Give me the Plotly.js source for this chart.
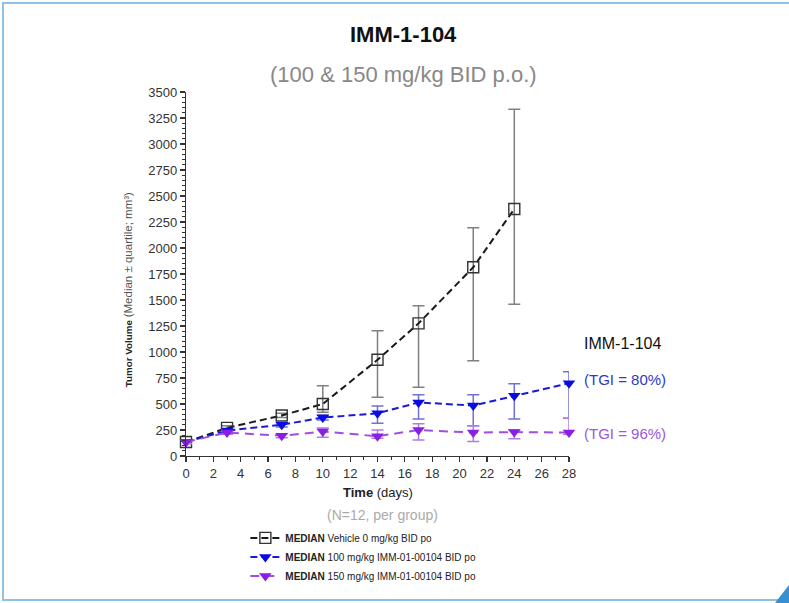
<!DOCTYPE html>
<html>
<head>
<meta charset="utf-8">
<script src="https://cdn.plot.ly/plotly-3.0.1.min.js"></script>
<style>
  html, body { margin: 0; padding: 0; background: #ffffff; }
  #wrap { position: relative; width: 789px; height: 603px; overflow: hidden; }
  #chart { position: absolute; left: 0; top: 0; width: 789px; height: 603px; }
  #frame { position: absolute; left: 2px; top: 2px; width: 820px; height: 595px;
           border-left: 2px solid #8fc1e4; border-top: 2px solid #8fc1e4; border-bottom: 2px solid #8fc1e4;
           pointer-events: none; }
  #corner { position: absolute; right: 0; bottom: 0; width: 14px; height: 18px; background: #3a8fd0;
            clip-path: polygon(100% 0, 100% 100%, 0 100%); pointer-events: none; }
</style>
</head>
<body>
<div id="wrap">
  <div id="chart"></div>
  <div id="frame"></div>
  <div id="corner"></div>
</div>
<script>
// ---- Data ----
const daysVehicle = [0, 3, 7, 10, 14, 17, 21, 24];
const vehicleMedian = [135, 270, 390, 500, 925, 1275, 1815, 2375];
const vehicleQ3 = [150, 290, 410, 675, 1205, 1445, 2195, 3335];
const vehicleQ1 = [125, 250, 370, 420, 565, 660, 915, 1460];

const daysTreated = [0, 3, 7, 10, 14, 17, 21, 24, 28];
const dose100Median = [135, 245, 300, 370, 410, 515, 485, 580, 700];
const dose100Q3 = [150, 260, 320, 395, 480, 590, 590, 695, 810];
const dose100Q1 = [120, 230, 280, 345, 315, 355, 290, 355, 362];

const dose150Median = [135, 225, 195, 235, 190, 250, 225, 230, 225];
const dose150Q3 = [150, 240, 215, 270, 250, 310, 290, 250, 362];
const dose150Q1 = [120, 210, 175, 180, 170, 155, 140, 165, 210];

const seriesNames = [
  "<b>MEDIAN</b> Vehicle 0 mg/kg BID po",
  "<b>MEDIAN</b> 100 mg/kg IMM-01-00104 BID po",
  "<b>MEDIAN</b> 150 mg/kg IMM-01-00104 BID po"
];
const tgiLabels = ["(TGI = 80%)", "(TGI = 96%)"];

const up = (q3, m) => q3.map((v, i) => v - m[i]);
const down = (q1, m) => m.map((v, i) => v - q1[i]);

const FONT = "Liberation Sans, Arial, Helvetica, sans-serif";

const traces = [
  {
    x: daysVehicle, y: vehicleMedian, name: seriesNames[0], type: "scatter", mode: "lines+markers",
    line: { color: "#1a1a1a", width: 2, dash: "7px,4px" },
    marker: { symbol: "square-open", size: 11, color: "#333333", line: { width: 1.4, color: "#333333" } },
    error_y: { type: "data", symmetric: false, array: up(vehicleQ3, vehicleMedian), arrayminus: down(vehicleQ1, vehicleMedian),
               color: "#808080", thickness: 1.5, width: 6 },
    cliponaxis: false
  },
  {
    x: daysTreated, y: dose100Median, name: seriesNames[1], type: "scatter", mode: "lines+markers",
    line: { color: "#1a1ad6", width: 2, dash: "7px,4px" },
    marker: { symbol: "triangle-down", size: 11, color: "#0a0ae6" },
    error_y: { type: "data", symmetric: false, array: up(dose100Q3, dose100Median), arrayminus: down(dose100Q1, dose100Median),
               color: "#7070d8", thickness: 1.5, width: 6 },
    cliponaxis: false
  },
  {
    x: daysTreated, y: dose150Median, name: seriesNames[2], type: "scatter", mode: "lines+markers",
    line: { color: "#a04ee0", width: 2, dash: "9px,6px" },
    marker: { symbol: "triangle-down", size: 11, color: "#8a1ee6" },
    error_y: { type: "data", symmetric: false, array: up(dose150Q3, dose150Median), arrayminus: down(dose150Q1, dose150Median),
               color: "#b27ae6", thickness: 1.5, width: 6 },
    cliponaxis: false
  }
];

const layout = {
  width: 789, height: 603,
  margin: { l: 186, r: 220, t: 92, b: 147, pad: 0 },
  paper_bgcolor: "#ffffff", plot_bgcolor: "#ffffff",
  font: { family: FONT, color: "#333333" },
  showlegend: true,
  legend: {
    xref: "paper", yref: "container",
    x: 0.155, y: 0.132, xanchor: "left", yanchor: "top",
    font: { size: 10, color: "#222222", family: FONT },
    bgcolor: "rgba(0,0,0,0)", itemwidth: 30, tracegroupgap: 0
  },
  xaxis: {
    range: [0, 28], tickmode: "linear", tick0: 0, dtick: 2,
    showgrid: false, zeroline: false, showline: true, linecolor: "#333333", linewidth: 1.2,
    ticks: "outside", ticklen: 5, tickwidth: 1.2, tickcolor: "#333333",
    tickfont: { size: 13, color: "#333333", family: FONT },
    minor: { dtick: 1, ticklen: 3, tickwidth: 1, tickcolor: "#333333", showgrid: false, ticks: "outside" },
    fixedrange: true, automargin: false
  },
  yaxis: {
    range: [0, 3500], tickmode: "linear", tick0: 0, dtick: 250,
    showgrid: false, zeroline: false, showline: true, linecolor: "#333333", linewidth: 1.2,
    ticks: "outside", ticklen: 5, tickwidth: 1.2, tickcolor: "#333333",
    tickfont: { size: 13, color: "#333333", family: FONT },
    minor: { dtick: 50, ticklen: 3, tickwidth: 1, tickcolor: "#333333", showgrid: false, ticks: "outside" },
    fixedrange: true, automargin: false
  },
  annotations: [
    { text: "<b>IMM-1-104</b>", xref: "paper", yref: "paper", x: 0.567, y: 1.157, xanchor: "center", yanchor: "middle",
      showarrow: false, font: { size: 22, color: "#111111", family: FONT } },
    { text: "(100 & 150 mg/kg BID p.o.)", xref: "paper", yref: "paper", x: 0.567, y: 1.047, xanchor: "center", yanchor: "middle",
      showarrow: false, font: { size: 22, color: "#888888", family: FONT } },
    { text: "<b>Time</b> (days)", xref: "paper", yref: "paper", x: 0.5, y: -0.099, xanchor: "center", yanchor: "middle",
      showarrow: false, font: { size: 13, color: "#222222", family: FONT } },
    { text: "(N=12, per group)", xref: "paper", yref: "paper", x: 0.514, y: -0.162, xanchor: "center", yanchor: "middle",
      showarrow: false, font: { size: 14, color: "#aaaaaa", family: FONT } },
    { text: "<b>Tumor Volume</b> <span style='font-size:11.5px;color:#555555'>(Median ± quartile; mm³)</span>", xref: "paper", yref: "paper",
      x: -0.151, y: 0.456, xanchor: "center", yanchor: "middle", textangle: -90,
      showarrow: false, font: { size: 9.8, color: "#222222", family: FONT } },
    { text: "IMM-1-104", xref: "paper", yref: "paper", x: 1.034, y: 0.31, xanchor: "left", yanchor: "middle",
      showarrow: false, font: { size: 16, color: "#111111", family: FONT } },
    { text: tgiLabels[0], xref: "paper", yref: "paper", x: 1.034, y: 0.209, xanchor: "left", yanchor: "middle",
      showarrow: false, font: { size: 15, color: "#2a3ad0", family: FONT } },
    { text: tgiLabels[1], xref: "paper", yref: "paper", x: 1.034, y: 0.063, xanchor: "left", yanchor: "middle",
      showarrow: false, font: { size: 15, color: "#9a58dc", family: FONT } }
  ]
};

Plotly.newPlot("chart", traces, layout, { staticPlot: true, displayModeBar: false });
</script>
</body>
</html>
